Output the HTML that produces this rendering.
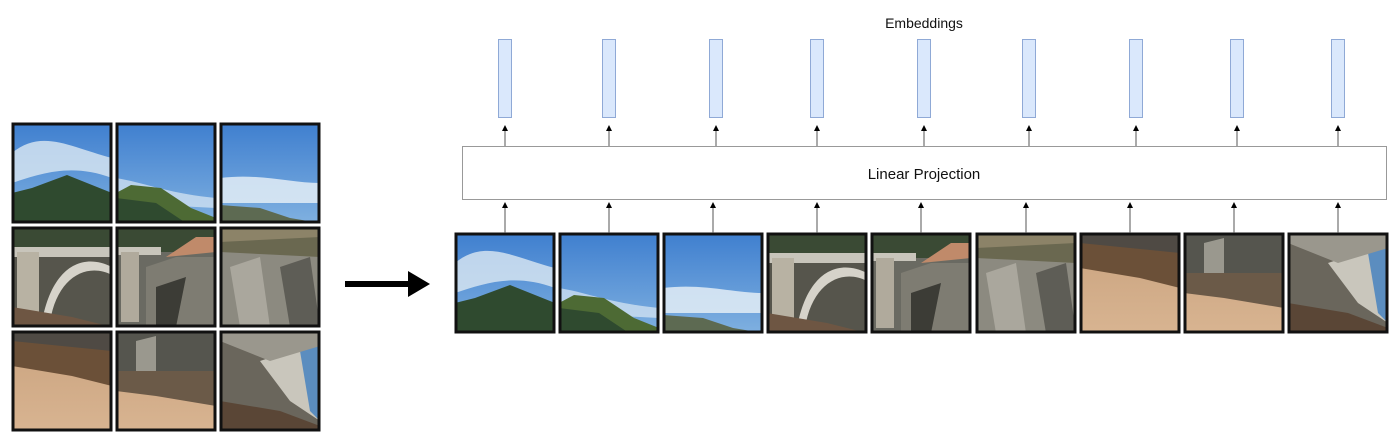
<!DOCTYPE html>
<html><head><meta charset="utf-8"><style>
html,body{margin:0;padding:0;background:#fff;}
svg{display:block;font-family:"Liberation Sans",Arial,sans-serif;}
</style></head><body>
<svg width="1400" height="443" viewBox="0 0 1400 443" xmlns="http://www.w3.org/2000/svg">
<defs>
<linearGradient id="sky" x1="0" y1="0" x2="0" y2="1"><stop offset="0" stop-color="#3f7fcf"/><stop offset="1" stop-color="#7fb0e0"/></linearGradient>
<linearGradient id="dirt" x1="0" y1="0" x2="0" y2="1"><stop offset="0" stop-color="#c9a27e"/><stop offset="1" stop-color="#d8b491"/></linearGradient>
<clipPath id="c"><rect x="0" y="0" width="100" height="100"/></clipPath>
<g id="t0" clip-path="url(#c)"><rect width="100" height="100" fill="url(#sky)"/><path d="M0,30 C30,5 60,25 100,35 L100,55 C60,40 30,50 0,60Z" fill="#dce8f3" opacity=".8"/><path d="M0,70 L20,65 L55,52 L80,62 L100,70 L100,100 L0,100Z" fill="#2f4a2f"/></g>
<g id="t1" clip-path="url(#c)"><rect width="100" height="100" fill="url(#sky)"/><path d="M0,55 C30,60 50,70 100,75 L100,85 0,80Z" fill="#dce8f3" opacity=".7"/><path d="M0,70 L15,62 L45,65 L75,85 L100,95 L100,100 L0,100Z" fill="#4d6a34"/><path d="M0,75 L40,80 L70,100 L0,100Z" fill="#2f4a2f"/></g>
<g id="t2" clip-path="url(#c)"><rect width="100" height="100" fill="url(#sky)"/><path d="M0,55 C40,50 70,60 100,60 L100,80 0,80Z" fill="#e3edf6" opacity=".85"/><path d="M0,82 L40,85 L70,95 L100,100 L0,100Z" fill="#5d6a52"/></g>
<g id="t3" clip-path="url(#c)"><rect width="100" height="100" fill="#56554c"/><rect width="100" height="20" fill="#3a4a34"/><rect x="0" y="20" width="100" height="10" fill="#c8c5bb"/><rect x="5" y="25" width="22" height="70" fill="#b8b2a3"/><path d="M30,95 C40,40 70,25 100,40 L100,48 C75,35 45,50 38,95Z" fill="#d6d3ca"/><path d="M0,80 L60,90 L100,100 L0,100Z" fill="#6e5643"/></g>
<g id="t4" clip-path="url(#c)"><rect width="100" height="100" fill="#6a6a62"/><rect width="100" height="25" fill="#3a4a34"/><path d="M50,30 L80,10 L100,10 L100,25Z" fill="#c08a6a"/><rect x="0" y="20" width="45" height="8" fill="#c8c5bb"/><rect x="5" y="25" width="18" height="70" fill="#b0aa9c"/><path d="M30,40 L60,30 L100,30 L100,100 L30,100Z" fill="#7e7c72"/><path d="M40,60 L70,50 L60,100 L40,100Z" fill="#3c3c36"/></g>
<g id="t5" clip-path="url(#c)"><rect width="100" height="100" fill="#8c8a80"/><rect width="100" height="15" fill="#8c8368"/><path d="M0,15 L100,10 L100,30 L0,25Z" fill="#6a6850"/><path d="M10,40 L40,30 L50,100 L20,100Z" fill="#aaa79d"/><path d="M60,40 L90,30 L100,100 L70,100Z" fill="#5e5d56"/></g>
<g id="t6" clip-path="url(#c)"><rect width="100" height="100" fill="url(#dirt)"/><path d="M0,0 L100,0 L100,55 L60,45 L0,35Z" fill="#6b5038"/><path d="M0,0 L100,0 L100,20 L0,10Z" fill="#4f4a44"/></g>
<g id="t7" clip-path="url(#c)"><rect width="100" height="100" fill="url(#dirt)"/><path d="M0,0 L100,0 L100,75 L40,65 L0,60Z" fill="#6b5a48"/><path d="M0,0 L100,0 L100,40 L0,40Z" fill="#55554e"/><path d="M20,10 L40,5 L40,40 L20,40Z" fill="#9a988e"/></g>
<g id="t8" clip-path="url(#c)"><rect width="100" height="100" fill="#6a665c"/><path d="M40,30 L100,10 L100,90 L70,70Z" fill="#c9c6bc"/><path d="M80,20 L100,10 L100,90 L90,80Z" fill="#5b8dbf"/><path d="M0,0 L100,0 L100,15 L50,30 L0,10Z" fill="#9a978d"/><path d="M0,70 L60,80 L100,95 L100,100 L0,100Z" fill="#5a4636"/></g>
<marker id="ah" markerWidth="6" markerHeight="6" refX="3" refY="3" orient="auto"><path d="M0,0 L6,3 L0,6Z" fill="#000"/></marker>
</defs>
<g id="grid"></g>
<line x1="345" y1="284" x2="412" y2="284" stroke="#000" stroke-width="6"/>
<path d="M408,271 L430,284 L408,297Z" fill="#000"/>
<text x="924" y="28" font-size="14" text-anchor="middle" fill="#111">Embeddings</text>
<rect x="462.5" y="146.5" width="924" height="53" fill="#fff" stroke="#999" stroke-width="1"/>
<text x="924" y="179" font-size="15" text-anchor="middle" fill="#111">Linear Projection</text>
<g id="row"></g>
</svg>
<script>
const patchOrder=["t0","t1","t2","t3","t4","t5","t6","t7","t8"];
const patchX=[455,559,663,767,871,976,1080,1184,1288];
const embX=[505,609,716,817,924,1029,1136,1237,1338];
const NS="http://www.w3.org/2000/svg";
const grid=document.getElementById('grid'),row=document.getElementById('row'),svg=document.querySelector('svg');
function mk(t,a){const e=document.createElementNS(NS,t);for(const k in a)e.setAttribute(k,a[k]);return e;}
const gx=[12,116,220],gy=[123,227,331];
for(let i=0;i<9;i++){
  const x=gx[i%3],y=gy[Math.floor(i/3)];
  const g=mk('g',{transform:`translate(${x},${y})`});
  
  
  g.appendChild(mk('use',{href:'#'+patchOrder[i]}));
  g.appendChild(mk('rect',{x:1,y:1,width:98,height:98,fill:'none',stroke:'#111','stroke-width':3}));
  grid.appendChild(g);
}
for(let i=0;i<9;i++){
  const x=patchX[i];
  const g=mk('g',{transform:`translate(${x},233)`});
  
  
  g.appendChild(mk('use',{href:'#'+patchOrder[i]}));
  g.appendChild(mk('rect',{x:1,y:1,width:98,height:98,fill:'none',stroke:'#111','stroke-width':3}));
  row.appendChild(g);
  const cx=x+50;
  const a1=mk('line',{x1:cx,y1:233,x2:cx,y2:205,stroke:'#555','stroke-width':1,'marker-end':'url(#ah)'});
  
  
  svg.appendChild(a1);
  const ex=embX[i];
  const a2=mk('line',{x1:ex,y1:146,x2:ex,y2:128,stroke:'#555','stroke-width':1,'marker-end':'url(#ah)'});
  
  
  svg.appendChild(a2);
  const r=mk('rect',{x:ex-6.5,y:39.5,width:13,height:78,fill:'#dae8fc',stroke:'#8fa9d6','stroke-width':1});
  
  
  svg.appendChild(r);
}
</script>
</body></html>
